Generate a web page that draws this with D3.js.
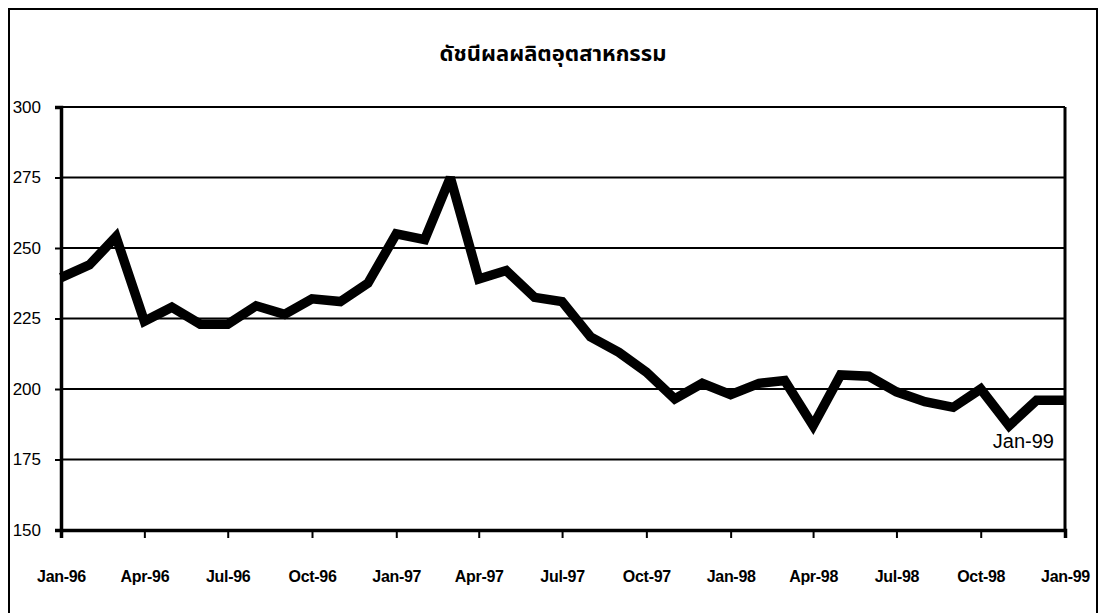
<!DOCTYPE html>
<html>
<head>
<meta charset="utf-8">
<script src="https://cdn.jsdelivr.net/npm/d3@7"></script>
<style>
  body { margin: 0; background: #fff; }
  svg { display: block; }
  .lbl { font-family: "Liberation Sans", Arial, sans-serif; fill: #000; }
</style>
</head>
<body>
<svg width="1099" height="613"></svg>
<script>
// monthly index, Jan-96 .. Jan-99
const months = ["Jan-96","Feb-96","Mar-96","Apr-96","May-96","Jun-96","Jul-96","Aug-96","Sep-96","Oct-96","Nov-96","Dec-96",
  "Jan-97","Feb-97","Mar-97","Apr-97","May-97","Jun-97","Jul-97","Aug-97","Sep-97","Oct-97","Nov-97","Dec-97",
  "Jan-98","Feb-98","Mar-98","Apr-98","May-98","Jun-98","Jul-98","Aug-98","Sep-98","Oct-98","Nov-98","Dec-98","Jan-99"];
const values = [239.5, 244, 254, 224, 229, 223, 223, 229.5, 226.5, 232, 231, 237.5,
  255, 253, 275, 239, 242, 232.5, 231, 218.5, 213, 206, 196.5, 202,
  198, 202, 203, 187, 205, 204.5, 199, 195.5, 193.5, 200, 187, 196, 196];
const xTickLabels = ["Jan-96","Apr-96","Jul-96","Oct-96","Jan-97","Apr-97","Jul-97","Oct-97","Jan-98","Apr-98","Jul-98","Oct-98","Jan-99"];
const yTicks = [150, 175, 200, 225, 250, 275, 300];
const title = "ดัชนีผลผลิตอุตสาหกรรม";
const note = "Jan-99";

const svg = d3.select("svg");
const parse = d3.timeParse("%b-%y");
const fmt = d3.timeFormat("%b-%y");

const plotL = 61, plotR = 1065, plotT = 107, plotB = 530;

const x = d3.scaleTime()
    .domain([parse(months[0]), parse(months[months.length - 1])])
    .range([plotL, plotR]);
const y = d3.scaleLinear().domain([150, 300]).range([plotB, plotT]);

// outer frame
svg.append("rect")
    .attr("x", 9).attr("y", 9).attr("width", 1088).attr("height", 620)
    .attr("fill", "none").attr("stroke", "#000").attr("stroke-width", 2);

// title
svg.append("text")
    .attr("x", 553).attr("y", 61)
    .attr("text-anchor", "middle")
    .style("font-family", "'Noto Sans Thai', 'Noto Sans', 'DejaVu Sans', sans-serif")
    .style("font-weight", "bold")
    .style("font-size", "22px")
    .text(title);

// gridlines
svg.append("g")
    .selectAll("line")
    .data(yTicks)
    .join("line")
    .attr("x1", plotL).attr("x2", plotR)
    .attr("y1", d => y(d)).attr("y2", d => y(d))
    .attr("stroke", "#000").attr("stroke-width", 2);

// right edge of plot
svg.append("line")
    .attr("x1", plotR).attr("x2", plotR).attr("y1", plotT).attr("y2", plotB)
    .attr("stroke", "#000").attr("stroke-width", 3);

// y axis
const yAxis = svg.append("g")
    .attr("transform", `translate(${plotL},0)`)
    .call(d3.axisLeft(y).tickValues(yTicks).tickSize(6).tickPadding(14));
yAxis.select(".domain").attr("stroke-width", 3.5);
yAxis.selectAll(".tick line").attr("stroke-width", 2);
yAxis.selectAll("text")
    .attr("class", "lbl")
    .style("font-size", "17px")
    .attr("fill", "#000");

// x axis
const xAxis = svg.append("g")
    .attr("transform", `translate(0,${plotB})`)
    .call(d3.axisBottom(x)
        .tickValues(xTickLabels.map(parse))
        .tickSize(8)
        .tickPadding(33)
        .tickFormat(fmt));
xAxis.select(".domain").attr("stroke-width", 3.5);
xAxis.selectAll(".tick line").attr("stroke-width", 2);
xAxis.selectAll("text")
    .attr("class", "lbl")
    .style("font-size", "16px")
    .style("font-weight", "bold")
    .style("letter-spacing", "-0.3px")
    .attr("fill", "#000");

// series line
const line = d3.line()
    .x((d, i) => x(parse(months[i])))
    .y(d => y(d));

svg.append("path")
    .datum(values)
    .attr("d", line)
    .attr("fill", "none")
    .attr("stroke", "#000")
    .attr("stroke-width", 9.5)
    .attr("stroke-linejoin", "miter")
    .attr("stroke-miterlimit", 3);

// end note
svg.append("text")
    .attr("class", "lbl")
    .attr("x", x(parse(months[months.length - 1])) - 11)
    .attr("y", 448)
    .attr("text-anchor", "end")
    .style("font-size", "20px")
    .text(note);
</script>
</body>
</html>
